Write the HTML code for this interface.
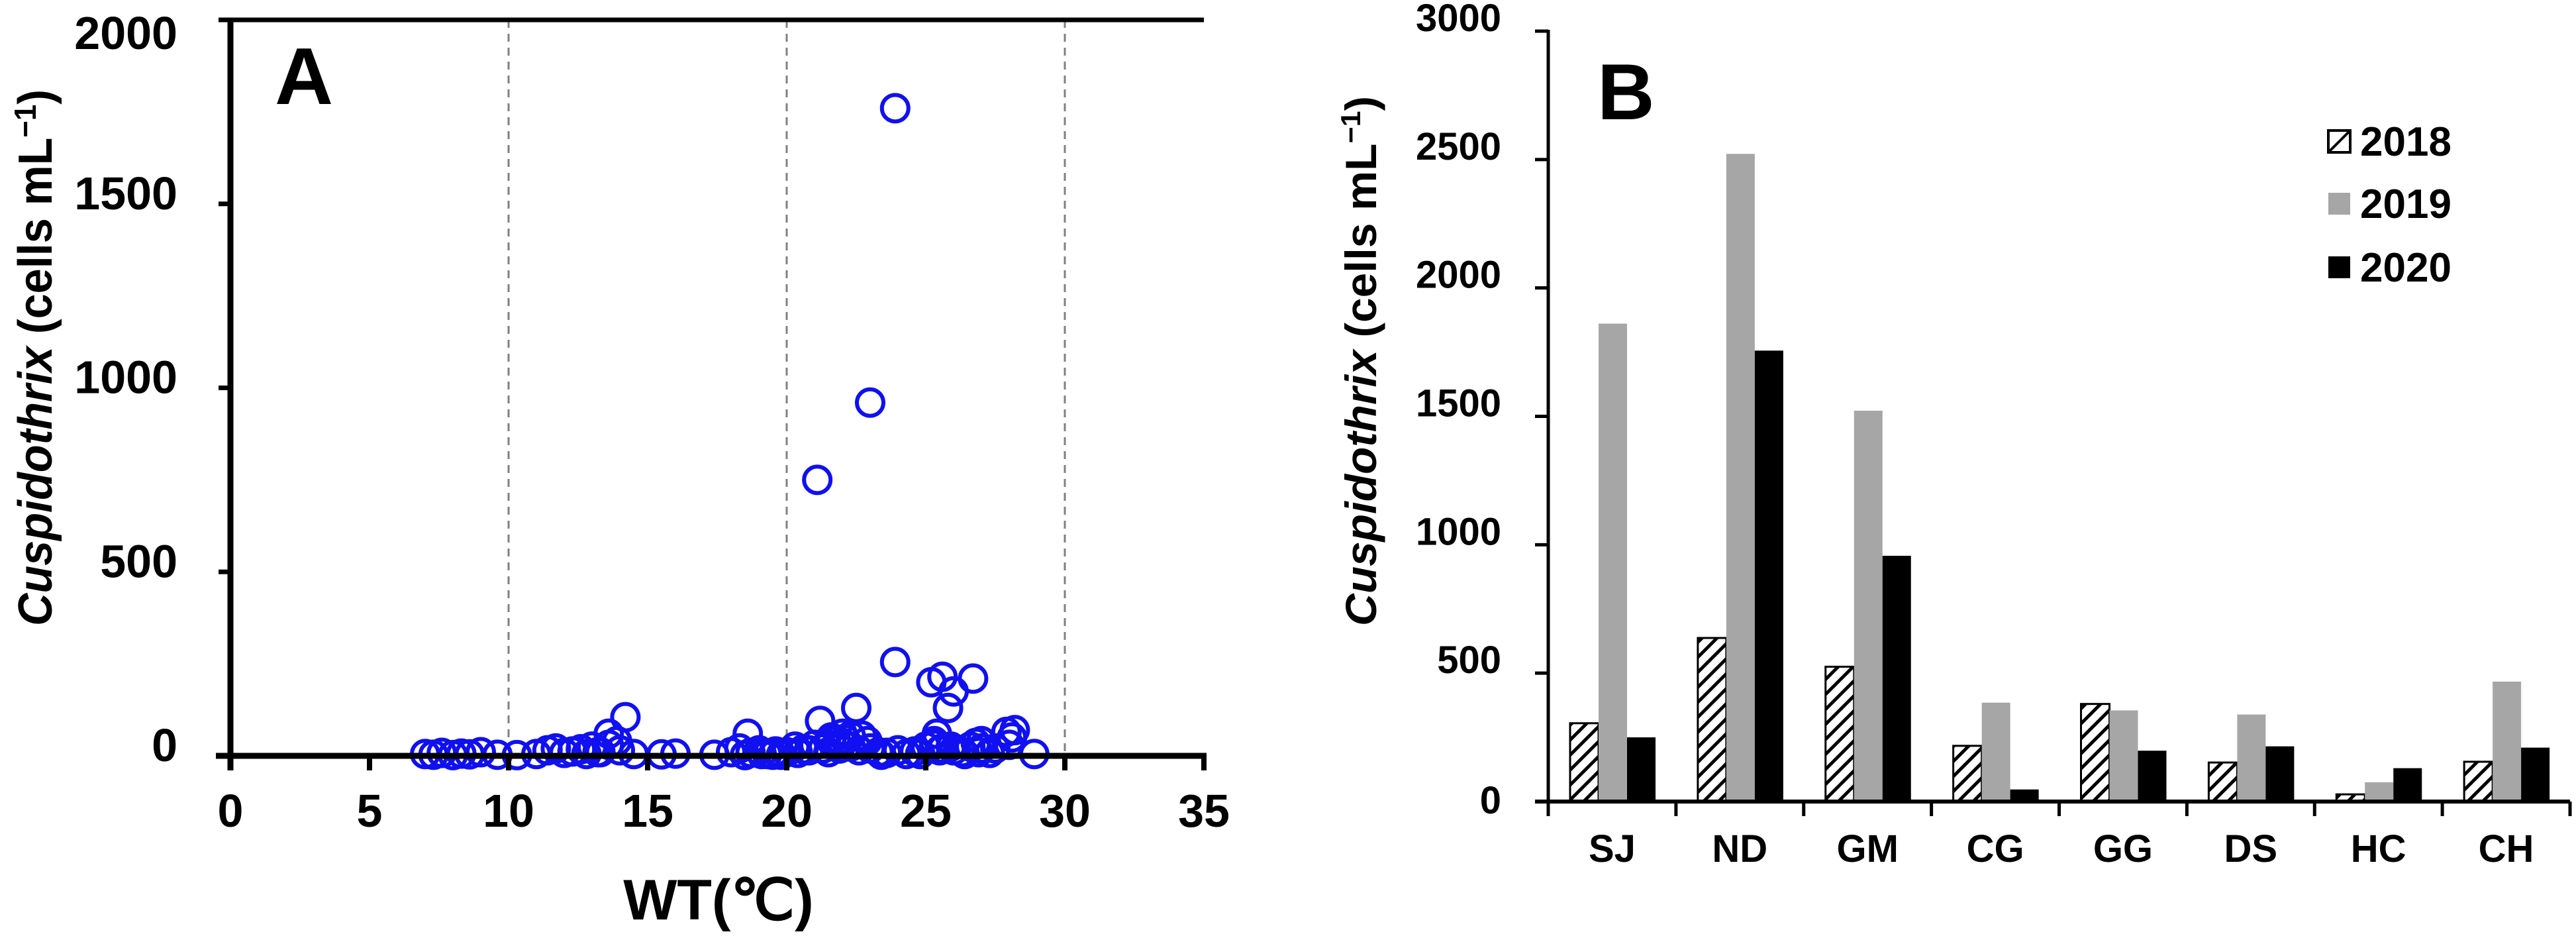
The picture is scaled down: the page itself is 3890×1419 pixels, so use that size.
<!DOCTYPE html>
<html><head><meta charset="utf-8">
<style>
html,body{margin:0;padding:0;background:#fff;}
svg{display:block;font-family:"Liberation Sans",Arial,sans-serif;font-weight:bold;}
</style></head>
<body>
<svg id="fig" width="3890" height="1419" viewBox="0 0 3890 1419" xmlns="http://www.w3.org/2000/svg">
<defs>
<pattern id="hatch" patternUnits="userSpaceOnUse" width="16" height="16" patternTransform="rotate(45)">
<rect width="16" height="16" fill="#fff"/>
<rect x="0" y="0" width="5" height="16" fill="#000"/>
</pattern>
</defs>
<g id="panelA"></g>
<g id="panelB"></g>
</svg>
<script>
// ---------- Panel A data ----------
const scatterX = [23.9,23.0,21.1,23.9,25.2,25.6,26.0,25.8,26.7,22.5,21.2,14.2,13.6,13.9,18.6,21.6,22.0,22.3,22.7,25.4,25.3,27.9,28.2,28.1,26.8,27.0,
7.0,7.3,7.6,8.0,8.3,8.6,9.0,9.6,10.3,11.0,11.4,11.7,12.0,12.3,12.6,13.0,13.3,13.6,14.0,14.5,15.5,16.0,17.4,18.0,18.3,18.7,19.0,19.3,19.6,20.0,20.3,20.6,21.0,21.3,21.6,22.0,22.3,22.6,23.0,23.3,23.6,24.0,24.3,24.6,25.0,25.3,25.6,26.0,26.3,26.6,27.0,27.3,28.0,28.9,
18.5,19.1,19.8,20.4,21.5,21.8,22.1,22.9,23.4,24.8,25.5,25.9,26.4,26.9,27.5,12.8,13.2,19.5,20.8,21.9];
const scatterY = [1760,960,750,255,200,215,175,130,210,130,95,105,60,40,60,50,60,55,55,60,40,65,70,50,35,40,
5,3,8,2,6,4,10,3,2,5,15,20,8,12,18,25,10,30,15,5,4,6,3,10,20,8,15,5,12,10,25,18,30,20,40,35,25,15,20,10,8,15,5,12,25,30,20,15,10,25,20,8,30,5,
2,5,3,8,10,30,45,40,3,5,15,25,5,10,20,5,10,3,15,20];
const xTicksA = [0,5,10,15,20,25,30,35];
const yTicksA = [0,500,1000,1500,2000];
const dashedA = [10,20,30];

// ---------- Panel B data ----------
const categories = ["SJ","ND","GM","CG","GG","DS","HC","CH"];
const series2018 = [305,637,525,217,380,152,28,155];
const series2019 = [1861,2522,1522,385,355,339,75,467];
const series2020 = [250,1756,957,47,198,215,130,210];
const yTicksB = [0,500,1000,1500,2000,2500,3000];
const seriesNames = ["2018","2019","2020"];

const NS="http://www.w3.org/2000/svg";
function mk(parent,tag,attrs,text){const e=document.createElementNS(NS,tag);for(const k in attrs)e.setAttribute(k,attrs[k]);if(text!==undefined)e.textContent=text;parent.appendChild(e);return e;}

// ===== Panel A =====
(function(){
const g=document.getElementById('panelA');
const L=348,R=1818,T=30,B=1141;
const xA=v=>L+(v-0)/(35-0)*(R-L);
const yA=v=>B-(v-0)/(2000-0)*(B-T);
dashedA.forEach(v=>{
 const l=mk(g,'line',{x1:xA(v),x2:xA(v),y1:T,y2:B,stroke:'#808080','stroke-width':3,'stroke-dasharray':'12 9'});
 
 
});
const pg=mk(g,'g',{});


for(let i=0;i<scatterX.length;i++){
 const c=mk(pg,'circle',{cx:xA(scatterX[i]),cy:yA(scatterY[i]),r:20,fill:'none',stroke:'#1010f0','stroke-width':6});
 
 
}
const tb=mk(g,'line',{x1:L-18,x2:R,y1:T,y2:T,stroke:'#000','stroke-width':7});


const ya=mk(g,'line',{x1:L,x2:L,y1:T-3,y2:B+22,stroke:'#000','stroke-width':9});


const xa=mk(g,'line',{x1:L-22,x2:R+4,y1:B,y2:B,stroke:'#000','stroke-width':9});


xTicksA.forEach(v=>{
 const t=mk(g,'line',{x1:xA(v),x2:xA(v),y1:B,y2:B+22,stroke:'#000','stroke-width':8});
 
 
 const tx=mk(g,'text',{x:xA(v),y:1248,'font-size':70,'text-anchor':'middle'},String(v));
 
 
});
yTicksA.forEach(v=>{
 const t=mk(g,'line',{x1:L-18,x2:L,y1:yA(v),y2:yA(v),stroke:'#000','stroke-width':7});
 
 
 let yy=yA(v)+8; if(v===2000) yy=yA(v)+44;
 const tx=mk(g,'text',{x:268,y:yy,'font-size':70,'text-anchor':'end'},String(v));
 
 
});
const lab=mk(g,'text',{x:415,y:157,'font-size':122},'A');


const xt=mk(g,'text',{x:1085,y:1388,'font-size':86,'text-anchor':'middle'},'WT(℃)');


const yt=mk(g,'text',{x:0,y:0,'font-size':72,'text-anchor':'middle',transform:'translate(78,540) rotate(-90)',textLength:810,lengthAdjust:'spacingAndGlyphs'});


mk(yt,'tspan',{'font-style':'italic'},'Cuspidothrix');
mk(yt,'tspan',{},' (cells mL');
mk(yt,'tspan',{dy:-24,'font-size':46},'−1');
mk(yt,'tspan',{dy:24},')');
})();

// ===== Panel B =====
(function(){
const g=document.getElementById('panelB');
const L=2338,R=3881,T=47,B=1210;
const bw=(R-L)/categories.length;
const yB=v=>B-(v-0)/(3000-0)*(B-T);
const barW=43,off=33;
const all=[series2018,series2019,series2020];
const fills=['url(#hatch)','#a6a6a6','#000'];
categories.forEach((c,i)=>{
 for(let s=0;s<3;s++){
  const v=all[s][i];
  const x=L+i*bw+off+s*barW;
  const r=mk(g,'rect',{x:x,y:yB(v),width:barW,height:B-yB(v),fill:fills[s],stroke:s===0?'#000':'none','stroke-width':s===0?3:0});
  
  
 }
 const tx=mk(g,'text',{x:L+i*bw+bw/2,y:1301,'font-size':58,'text-anchor':'middle'},c);
 
 
});
const ya=mk(g,'line',{x1:L,x2:L,y1:T-2,y2:B+22,stroke:'#000','stroke-width':5});


const xa=mk(g,'line',{x1:L-20,x2:R,y1:B,y2:B,stroke:'#000','stroke-width':6});


for(let i=0;i<=categories.length;i++){
 const t=mk(g,'line',{x1:L+i*bw,x2:L+i*bw,y1:B,y2:B+22,stroke:'#000','stroke-width':5});
 
 
}
yTicksB.forEach(v=>{
 const t=mk(g,'line',{x1:L-20,x2:L,y1:yB(v),y2:yB(v),stroke:'#000','stroke-width':5});
 
 
 const tx=mk(g,'text',{x:2267,y:yB(v)+(v===0?18:0),'font-size':58,'text-anchor':'end'},String(v));
 
 
});
const lab=mk(g,'text',{x:2412,y:180,'font-size':120},'B');


const yt=mk(g,'text',{x:0,y:0,'font-size':66,'text-anchor':'middle',transform:'translate(2078,545) rotate(-90)',textLength:800,lengthAdjust:'spacingAndGlyphs'});


mk(yt,'tspan',{'font-style':'italic'},'Cuspidothrix');
mk(yt,'tspan',{},' (cells mL');
mk(yt,'tspan',{dy:-24,'font-size':42},'−1');
mk(yt,'tspan',{dy:24},')');
const lg=mk(g,'g',{});


const ly=[213,307,403];
seriesNames.forEach((n,s)=>{
 const e=mk(lg,'g',{});
 
 
 mk(e,'rect',{x:3516,y:ly[s]-16,width:33,height:33,fill:s===0?'#fff':fills[s],stroke:s===0?'#000':'none','stroke-width':s===0?4:0});
 if(s===0) mk(e,'line',{x1:3518,y1:ly[s]+15,x2:3547,y2:ly[s]-14,stroke:'#000','stroke-width':4});
 mk(e,'text',{x:3564,y:ly[s]+22,'font-size':62},n);
});
})();
</script>
</body></html>
